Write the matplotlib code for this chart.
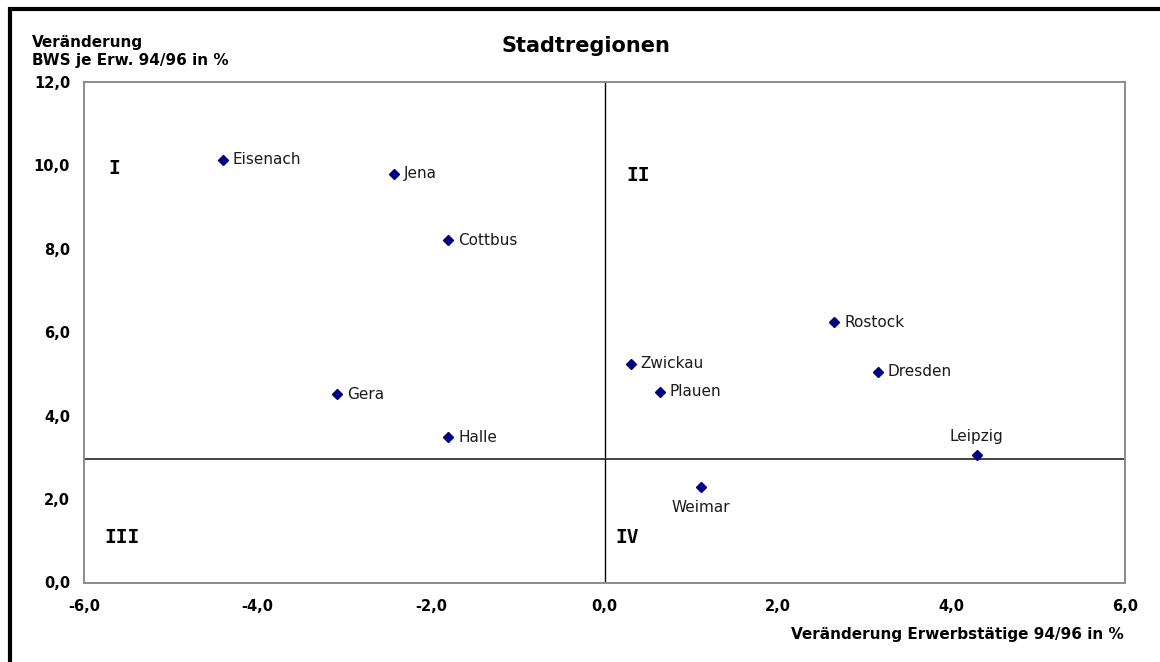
import matplotlib
matplotlib.use("Agg")
import matplotlib.pyplot as plt
from matplotlib.ticker import FuncFormatter, MultipleLocator
from matplotlib.lines import Line2D

# ---- data ----
cities = ["Eisenach", "Jena", "Cottbus", "Gera", "Halle",
          "Rostock", "Zwickau", "Dresden", "Plauen", "Leipzig", "Weimar"]
x_vals = [-4.40, -2.43, -1.80, -3.08, -1.80, 2.65, 0.30, 3.15, 0.64, 4.29, 1.11]
y_vals = [10.14, 9.80, 8.20, 4.51, 3.48, 6.24, 5.25, 5.05, 4.57, 3.05, 2.29]
label_pos = ["right", "right", "right", "right", "right",
             "right", "right", "right", "right", "above", "below"]
x_split = 0.0
y_split = 2.96
quadrants = ["I", "II", "III", "IV"]
quad_x = [-5.72, 0.25, -5.76, 0.13]
quad_y = [9.93, 9.76, 1.09, 1.09]

title = "Stadtregionen"
x_title = "Veränderung Erwerbstätige 94/96 in %"
y_title = "Veränderung\nBWS je Erw. 94/96 in %"

W, H = 1160, 662
fig = plt.figure(figsize=(W / 100, H / 100), dpi=100)
fig.patch.set_facecolor("white")
ax = fig.add_axes([84 / W, 1 - 582.5 / H, (1125 - 84) / W, (582.5 - 82) / H])

ax.set_xlim(-6, 6)
ax.set_ylim(0, 12)
ax.xaxis.set_major_locator(MultipleLocator(2))
ax.yaxis.set_major_locator(MultipleLocator(2))
fmt = FuncFormatter(lambda v, p: f"{v:.1f}".replace(".", ","))
ax.xaxis.set_major_formatter(fmt)
ax.yaxis.set_major_formatter(fmt)
ax.tick_params(axis="both", length=0, labelsize=10.5)
ax.tick_params(axis="x", pad=12)
ax.tick_params(axis="y", pad=10)
for lab in ax.get_xticklabels() + ax.get_yticklabels():
    lab.set_fontweight("bold")
for s in ax.spines.values():
    s.set_color("#8c8c8c")
    s.set_linewidth(1.4)

ax.axvline(x_split, color="black", lw=1.0, zorder=1)
ax.axhline(y_split, color="#222222", lw=1.2, zorder=1)

ax.plot(x_vals, y_vals, linestyle="none", marker="D", markersize=5,
        color="#000080", zorder=3)

for name, xv, yv, pos in zip(cities, x_vals, y_vals, label_pos):
    if pos == "right":
        off, ha, va = (7, 0), "left", "center"
    elif pos == "above":
        off, ha, va = (0, 13.5), "center", "center"
    else:
        off, ha, va = (0, -14.5), "center", "center"
    ax.annotate(name, (xv, yv), xytext=off, textcoords="offset points",
                ha=ha, va=va, fontsize=11, color="#1a1a1a")

for q, qx, qy in zip(quadrants, quad_x, quad_y):
    ax.text(qx, qy, q, ha="left", va="center", fontsize=14,
            fontweight="bold", family="DejaVu Sans Mono", color="black")

fig.text(586 / W, 1 - 46 / H, title, ha="center", va="center",
         fontsize=15, fontweight="bold")
fig.text(1124 / W, 1 - 635 / H, x_title, ha="right", va="center",
         fontsize=11, fontweight="bold")
fig.text(32 / W, 1 - 51.5 / H, y_title, ha="left", va="center",
         fontsize=11, fontweight="bold", linespacing=1.2)

# outer frame (left and top edges visible)
fig.add_artist(Line2D([10 / W, 10 / W, 1.0], [0.0, 1 - 9 / H, 1 - 9 / H],
                      transform=fig.transFigure, color="black", lw=3,
                      solid_joinstyle="miter"))

fig.savefig("out.png", dpi=100, facecolor="white")
